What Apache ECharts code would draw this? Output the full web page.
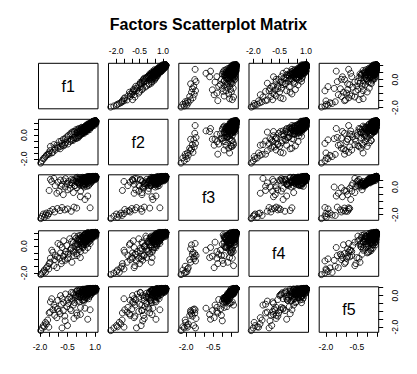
<!DOCTYPE html>
<html><head><meta charset="utf-8">
<script src="https://cdn.jsdelivr.net/npm/echarts@6/dist/echarts.min.js"></script>
<style>html,body{margin:0;padding:0;background:#fff}#c{width:417px;height:374px}</style>
</head><body><div id="c"></div>
<script>
const names = ['f1','f2','f3','f4','f5'];
const f1 = [-1.96,-1.88,-1.82,-1.76,-1.70,-1.65,-1.58,-1.52,
 -1.45,-1.30,-1.20,-1.05,-0.90,-0.80,-0.65,-0.50,-0.30,-0.15,0.00,0.20,0.45,0.60,0.73,
 -1.50,-1.43,-1.36,-1.24,-1.17,-1.08,-1.02,-0.96,-0.88,-0.84,-0.79,-0.73,-0.71,-0.63,-0.61,-0.54,-0.48,-0.46,-0.38,-0.36,-0.29,-0.26,-0.18,-0.16,-0.09,-0.04,0.02,0.06,0.12,0.14,0.21,0.27,0.31,
 1.04,1.04,1.04,1.04,1.04,1.00,0.98,0.95,0.95,0.92,0.90,0.90,0.88,0.85,0.85,0.82,0.80,0.80,0.78,0.75,0.75,0.72,0.70,0.70,0.68,0.65,0.65,0.62,0.60,0.60,0.58,0.55,0.55,0.52,0.50,0.50,0.48,0.45,0.45,0.42,0.40,0.40,0.38,0.35,0.35,
 1.04,1.02,1.04,0.97,1.04,0.93,0.87,1.04,0.83,0.77,0.99,0.91,0.86,0.73,0.67,
 0.95,0.88,1.04,0.78,0.70,0.62,0.55,0.48,0.40,0.33,0.25,0.18,0.10,0.05,-0.05,-0.12,-0.20,-0.28,1.04,1.01,
 0.96,0.92,0.89,0.84,0.81,0.76,0.74,0.69,0.66,0.63,0.59,0.56,0.53,0.49,0.46,0.43,0.39,0.36,0.32,0.29,
 0.26,0.22,0.19,0.16,0.13,0.09,0.07,0.03,1.04,1.03,0.98,0.94,0.90,0.86,0.83,0.80,0.77,0.72,0.68,0.64,
 0.61,0.57,0.54,0.51,0.47,0.44,0.41,0.37,0.34,0.30];
const f2 = [-2.35,-2.15,-1.98,-1.92,-1.80,-1.70,-1.62,-1.50,
 -1.30,-1.45,-1.10,-1.00,-1.15,-0.70,-0.80,-0.40,-0.35,-0.20,0.15,0.30,0.35,0.55,0.80,
 -1.60,-0.95,-1.50,-0.80,-1.25,-0.85,-1.10,-0.55,-0.95,-0.50,-0.85,-0.35,-0.90,-0.30,-0.65,-0.15,-0.75,-0.05,-0.55,0.10,-0.45,0.25,-0.35,0.30,-0.20,0.45,-0.25,0.50,-0.05,0.55,0.05,0.65,0.20,
 1.18,1.18,1.18,1.18,1.10,1.18,1.05,1.12,0.98,1.05,0.95,1.02,0.90,0.98,0.85,0.92,0.80,0.88,0.75,0.85,0.70,0.78,0.65,0.80,0.72,0.60,0.75,0.68,0.55,0.70,0.62,0.50,0.65,0.58,0.45,0.60,0.52,0.40,0.55,0.48,0.35,0.50,0.42,0.30,0.45,
 1.15,1.18,1.08,1.18,1.18,1.10,1.00,1.02,0.95,0.90,1.14,1.16,1.08,0.95,0.88,
 0.80,1.15,0.95,1.05,0.45,0.90,0.30,0.75,0.15,0.60,0.05,0.45,-0.20,0.35,-0.30,0.25,-0.45,0.10,1.18,1.12,
 1.18,0.88,1.10,0.78,1.02,0.62,1.00,0.82,0.52,0.95,0.78,0.40,0.85,0.65,0.25,0.70,0.55,0.20,0.50,0.35,
 0.60,0.15,0.40,-0.05,0.30,0.20,-0.10,0.25,1.05,1.18,0.92,1.15,0.85,1.12,0.70,1.08,0.80,0.92,0.58,0.85,
 0.72,0.48,0.80,0.38,0.68,0.58,0.28,0.62,0.45,0.10];
const f3 = [-2.28,-2.10,-1.95,-2.18,-2.02,-1.88,-2.05,-1.92,
 -1.75,-1.62,-1.80,-1.55,-1.70,-1.48,-1.65,-1.58,-1.75,-1.45,-1.52,-0.70,-0.90,-0.65,-1.50,
 -0.25,0.55,0.40,0.62,0.10,-0.45,0.35,-0.30,0.50,0.05,0.20,-0.55,0.45,0.00,0.60,0.25,-0.20,0.40,0.15,-0.10,0.55,0.30,-0.40,0.45,0.10,0.65,-0.05,0.35,0.55,0.20,-0.30,0.50,0.15,
 0.76,0.76,0.76,0.76,0.70,0.76,0.65,0.72,0.60,0.76,0.55,0.68,0.70,0.50,0.62,0.40,0.58,0.72,0.30,0.52,0.66,0.45,0.20,0.60,0.35,0.55,0.10,0.48,0.68,0.25,0.40,0.58,0.05,0.30,0.50,0.65,0.15,0.42,0.60,0.28,0.55,0.00,0.38,0.62,0.20,
 0.74,0.76,0.62,0.76,0.68,0.74,0.76,0.58,0.66,0.74,0.52,0.70,0.45,0.64,0.72,
 0.70,0.60,0.76,0.50,0.65,0.74,0.35,0.62,0.45,0.70,0.30,0.55,0.25,0.60,0.40,0.10,0.50,0.28,0.72,0.76,
 0.66,0.76,0.56,0.70,0.62,0.75,0.48,0.68,0.40,0.72,0.52,0.64,0.45,0.70,0.22,0.58,0.66,0.10,0.48,0.62,
 0.35,0.52,0.68,0.15,0.45,0.58,0.32,0.70,0.70,0.60,0.74,0.68,0.62,0.76,0.54,0.70,0.64,0.76,0.58,0.44,
 0.76,0.50,0.72,0.38,0.68,0.54,0.64,0.25,0.56,0.42];
const f4 = [-2.12,-2.00,-1.90,-1.78,-1.95,-1.62,-1.50,-1.70,
 -1.20,-0.45,-1.00,-0.80,0.10,-1.10,-0.60,-0.95,-0.20,-0.70,-0.55,-0.85,-0.30,-0.10,0.20,
 -1.30,-0.90,-0.30,-1.45,-0.70,-1.60,0.20,-0.90,-0.50,-1.30,-0.10,-0.75,0.40,-1.05,-0.40,0.05,-0.60,-0.85,0.55,-0.30,-0.15,-1.20,0.30,-0.45,0.00,0.60,-0.70,0.15,-0.25,0.45,-0.40,0.70,-0.05,
 1.02,1.02,1.02,1.02,0.95,0.90,1.02,0.85,0.95,1.00,0.80,0.92,0.70,0.88,0.60,0.95,0.75,0.55,0.85,0.65,0.90,0.40,0.70,0.80,0.50,0.95,0.30,0.65,0.45,0.75,0.20,0.60,0.85,0.35,0.55,0.10,0.70,0.25,0.50,0.80,0.40,0.15,0.60,0.30,-0.10,
 0.98,1.02,1.02,0.96,0.88,1.02,0.98,0.92,1.02,0.85,0.78,0.72,1.00,0.96,0.88,
 0.85,1.02,0.75,0.95,0.60,0.98,0.45,0.85,0.10,0.65,0.35,0.80,-0.05,0.50,0.20,0.75,-0.35,0.35,1.02,0.94,
 1.02,0.98,0.90,1.02,0.68,0.88,0.98,0.58,0.90,0.78,0.40,0.72,0.95,0.30,0.55,0.88,0.45,0.65,0.20,0.70,
 0.05,0.55,0.30,0.60,-0.15,0.40,0.75,0.10,0.82,1.02,0.92,0.80,1.02,0.86,0.76,1.00,0.62,0.92,0.84,0.50,
 1.02,0.66,0.78,0.40,0.92,0.35,0.62,0.78,0.48,0.25];
const f5 = [-2.22,-2.05,-1.90,-1.98,-1.70,-1.80,-1.55,-2.00,
 -1.05,-0.90,-1.25,-0.85,-1.15,-2.05,-1.30,-1.90,-0.95,-1.45,-1.10,-1.20,-0.80,-1.50,-0.90,
 -1.10,-0.40,-0.20,-0.60,-0.75,-1.40,-0.30,-1.00,0.00,-0.55,-0.20,-0.95,-0.45,-1.60,0.10,-0.70,-0.25,-0.50,-0.10,-0.85,0.20,-0.35,-0.60,0.05,-0.15,0.25,-1.25,-0.05,0.15,-0.40,-0.75,0.30,-0.30,
 0.45,0.45,0.45,0.45,0.40,0.45,0.38,0.42,0.30,0.45,0.35,0.25,0.40,0.20,0.32,0.10,0.28,0.44,0.15,0.05,0.36,0.22,-0.05,0.40,0.12,0.30,-0.20,0.18,0.42,0.00,0.25,0.35,-0.15,0.08,0.28,0.40,-0.10,0.20,0.10,-0.25,0.32,-0.35,0.15,0.38,-0.05,
 0.43,0.40,0.45,0.45,0.35,0.42,0.45,0.30,0.38,0.45,0.26,0.44,0.20,0.34,0.41,
 0.40,0.30,0.45,0.42,0.20,0.38,0.05,0.33,0.25,0.40,-0.10,0.15,-0.30,0.35,0.00,-0.45,0.18,-0.20,0.45,0.44,
 0.36,0.45,0.32,0.40,0.28,0.45,0.22,0.38,0.10,0.43,0.30,0.12,0.36,0.42,-0.15,0.27,0.40,-0.28,0.18,0.32,
 0.05,0.22,0.38,-0.12,0.28,0.10,-0.05,0.30,0.39,0.45,0.41,0.34,0.44,0.45,0.24,0.43,0.31,0.45,0.26,0.19,
 0.45,0.14,0.40,0.02,0.37,0.24,0.34,-0.08,0.26,0.12];

// tick positions and labelled ticks per factor
const ticks = [
  [-2,-1.5,-1,-0.5,0,0.5,1],
  [-2,-1.5,-1,-0.5,0,0.5,1],
  [-2,-1.5,-1,-0.5,0,0.5],
  [-2,-1.5,-1,-0.5,0,0.5,1],
  [-2,-1.5,-1,-0.5,0,0.5]
];
const xLabels = [[-2,-0.5,1],[-2,-0.5,1],[-2,-0.5],[-2,-0.5,1],[-2,-0.5]];
const yLabels = [[-2,0],[-2,0],[-2,0],[-2,0],[-2,0]];

const F = [f1,f2,f3,f4,f5];
function ext(a){const mn=Math.min(...a), mx=Math.max(...a), r=mx-mn; return [mn-0.04*r, mx+0.04*r];}
const R = F.map(ext);

const colLeft = [38.5,108.5,178.8,249,319.2];
const rowTop = [63.3,119.3,174.8,230.8,286.8];
const W = 59.5, H = 45.5;
const font = 'Liberation Sans, Arial, Helvetica, sans-serif';

const grids=[], xAxes=[], yAxes=[], series=[], graphics=[];
for (let i=0;i<5;i++) for (let j=0;j<5;j++){
  const k = grids.length;
  grids.push({left: colLeft[j], top: rowTop[i], width: W, height: H, show:true,
    borderColor:'#000', borderWidth:1, backgroundColor:'transparent', containLabel:false});
  const showX = (i===4 && j%2===0) || (i===0 && j%2===1);
  const showY = (j===0 && i%2===1) || (j===4 && i%2===0);
  xAxes.push({gridIndex:k, type:'value', min:R[j][0], max:R[j][1], position: i===0?'top':'bottom',
    axisLine:{show:false, onZero:false}, splitLine:{show:false},
    axisTick:{show:showX, length:4.5, inside:false, customValues: ticks[j], lineStyle:{color:'#000',width:1}},
    axisLabel:{show:showX, customValues: xLabels[j], formatter: v=>v.toFixed(1), fontSize:8.5, color:'#000', fontFamily:font, margin: i===0?8:10}});
  yAxes.push({gridIndex:k, type:'value', min:R[i][0], max:R[i][1], position: j===0?'left':'right',
    axisLine:{show:false, onZero:false}, splitLine:{show:false},
    axisTick:{show:showY, length:4.5, inside:false, customValues: ticks[i], lineStyle:{color:'#000',width:1}},
    axisLabel:{show:showY, customValues: yLabels[i], formatter: v=>v.toFixed(1), rotate:90, fontSize:8.5, color:'#000', fontFamily:font, margin: j===0?10:12}});
  if (i!==j) {
    series.push({type:'scatter', xAxisIndex:k, yAxisIndex:k,
      data: F[j].map((v,n)=>[v,F[i][n]]), symbol:'circle', symbolSize:6,
      itemStyle:{color:'rgba(0,0,0,0)', borderColor:'#000', borderWidth:1},
      silent:true, animation:false});
  } else {
    graphics.push({type:'text', x: colLeft[j]+W/2, y: rowTop[i]+H/2, silent:true,
      style:{text:names[i], fontSize:16, fontFamily:font, fill:'#000', align:'center', verticalAlign:'middle'}});
  }
}

const chart = echarts.init(document.getElementById('c'), null, {renderer:'svg'});
chart.setOption({
  animation:false,
  backgroundColor:'#fff',
  title:{text:'Factors Scatterplot Matrix', left:'center', top:11,
    textStyle:{fontSize:16, fontWeight:'bold', color:'#000', fontFamily:font}},
  grid: grids, xAxis: xAxes, yAxis: yAxes, series: series, graphic: graphics
});
</script></body></html>
